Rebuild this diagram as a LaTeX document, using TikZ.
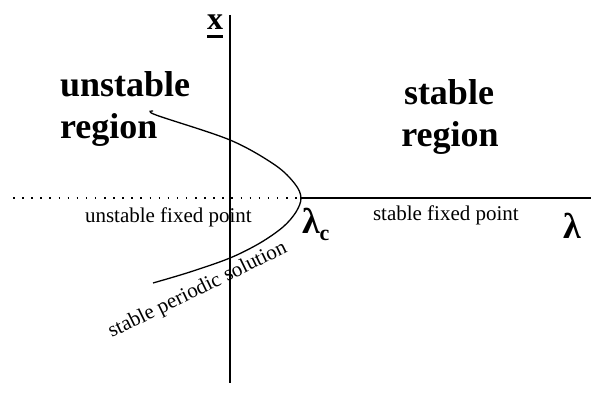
\documentclass[tikz,border=0pt]{standalone}
\usepackage{fontspec}
\setmainfont{Liberation Serif}
\begin{document}
\begin{tikzpicture}[x=1pt,y=-1pt,
  lbl/.style={inner sep=0pt,outer sep=0pt,anchor=base west},
  bigtxt/.style={lbl,font=\bfseries\fontsize{36}{42}\selectfont},
  smalltxt/.style={lbl,font=\fontsize{21}{25}\selectfont},
  lam/.style={lbl,font=\bfseries\fontsize{36}{40}\selectfont},
  axisline/.style={line width=1.3pt}]
\useasboundingbox (0,0) rectangle (592,396);
% axes
\coordinate (vt) at (230,15);
\coordinate (vb) at (230,383);
\coordinate (hl) at (13,198);
\coordinate (hv) at (300,198);
\coordinate (hr) at (591,198);
\draw[axisline] (vt) -- (vb);
\draw[line width=1.2pt,dash pattern=on 1.5pt off 7.6pt] (hl) -- (hv);
\draw[axisline] (hv) -- (hr);
% bifurcation curve
\draw[line width=1.3pt] plot[smooth,tension=0.55] coordinates
  {(153,111) (156,115) (230,140) (275,165) (295,184) (301,198) (296,212) (283,227) (260,243) (230,258) (190,272) (153,283)};
% labels
\node[lbl,font=\bfseries\fontsize{32}{36}\selectfont] (xlab) at (207,30) {x};
\draw[line width=3pt] ([yshift=-7pt]xlab.base west) -- ([yshift=-7pt]xlab.base east);
\node[bigtxt] (u1) at (60,96) {unstable};
\node[bigtxt] (u2) at (60,138) {region};
\node[bigtxt,anchor=base] (s1) at (449,104) {stable};
\node[bigtxt,anchor=base] (s2) at (450,146) {region};
\node[smalltxt] (ufp) at (85,222) {unstable fixed point};
\node[smalltxt] (sfp) at (373,220) {stable fixed point};
\node[lam] (lc) at (302,233) {λ};
\node[lbl,font=\bfseries\fontsize{22}{24}\selectfont] (lcs) at (lc.base east) [yshift=-7pt] {c};
\node[lam] (lr) at (563,238) {λ};
\node[smalltxt,anchor=base,rotate=26] (sps) at (200,295) {stable periodic solution};
\end{tikzpicture}
\end{document}
